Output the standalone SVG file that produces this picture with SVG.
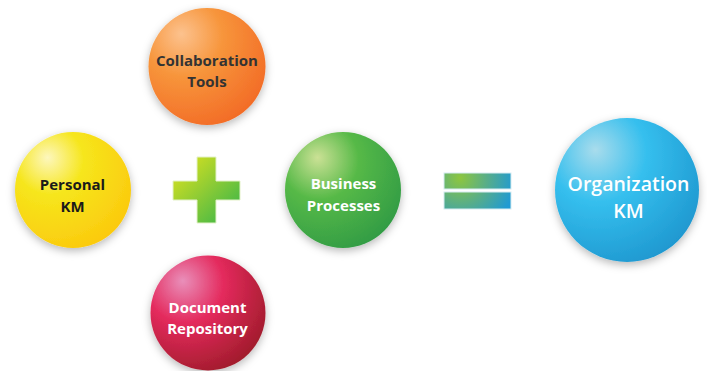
<svg xmlns="http://www.w3.org/2000/svg" width="707" height="371" viewBox="0 0 707 371">
  <style>
    .lbl { font-family: "Open Sans", "DejaVu Sans", sans-serif; font-weight: 700; font-size: 15px; text-anchor: middle; }
    .dark { fill: #333333; }
    .black { fill: #1a1a1a; }
    .white { fill: #ffffff; }
    .big { font-size: 19.5px; font-weight: 600; }
    .ball { filter: url(#shadow); }
  </style>
  <defs>
    <filter id="shadow" x="-30%" y="-30%" width="160%" height="160%">
      <feDropShadow dx="0" dy="3" stdDeviation="4" flood-color="#000" flood-opacity="0.28"/>
    </filter>
    <radialGradient id="gOrange" cx="0.32" cy="0.28" r="0.85" fx="0.28" fy="0.22">
      <stop offset="0" stop-color="#fcc28e"/>
      <stop offset="0.4" stop-color="#f7953b"/>
      <stop offset="1" stop-color="#f26624"/>
    </radialGradient>
    <radialGradient id="gYellow" cx="0.32" cy="0.28" r="0.85" fx="0.28" fy="0.22">
      <stop offset="0" stop-color="#fdf7bd"/>
      <stop offset="0.35" stop-color="#f6e61c"/>
      <stop offset="1" stop-color="#fcc60c"/>
    </radialGradient>
    <radialGradient id="gGreen" cx="0.32" cy="0.28" r="0.85" fx="0.28" fy="0.22">
      <stop offset="0" stop-color="#cbe195"/>
      <stop offset="0.4" stop-color="#56b947"/>
      <stop offset="1" stop-color="#2d9844"/>
    </radialGradient>
    <radialGradient id="gBlue" cx="0.32" cy="0.28" r="0.85" fx="0.28" fy="0.22">
      <stop offset="0" stop-color="#a9dcec"/>
      <stop offset="0.4" stop-color="#35bfee"/>
      <stop offset="1" stop-color="#1c93cc"/>
    </radialGradient>
    <radialGradient id="gRed" cx="0.32" cy="0.28" r="0.85" fx="0.28" fy="0.22">
      <stop offset="0" stop-color="#e98fba"/>
      <stop offset="0.4" stop-color="#e42a5d"/>
      <stop offset="1" stop-color="#981a25"/>
    </radialGradient>
    <linearGradient id="gPlus" x1="0" y1="0" x2="1" y2="1">
      <stop offset="0" stop-color="#e5e51c"/>
      <stop offset="0.5" stop-color="#8ccb35"/>
      <stop offset="1" stop-color="#2fb34b"/>
    </linearGradient>
    <radialGradient id="gEq" gradientUnits="userSpaceOnUse" cx="460" cy="178" r="55">
      <stop offset="0" stop-color="#8dc63f"/>
      <stop offset="0.5" stop-color="#57ad8a"/>
      <stop offset="1" stop-color="#1f9ad3"/>
    </radialGradient>
  </defs>

  <g id="collaboration-tools">
    <circle class="ball" cx="207" cy="66.5" r="58.5" fill="url(#gOrange)"/>
    <text class="lbl dark" x="207" y="66">Collaboration</text>
    <text class="lbl dark" x="207" y="87">Tools</text>
  </g>

  <g id="personal-km">
    <circle class="ball" cx="73" cy="190" r="58" fill="url(#gYellow)"/>
    <text class="lbl black" x="72.5" y="190">Personal</text>
    <text class="lbl black" x="72.5" y="212">KM</text>
  </g>

  <g id="plus">
    <path d="M197,157 H216 V181 H240 V200 H216 V223 H197 V200 H173 V181 H197 Z" fill="url(#gPlus)" stroke="#e3f1c8" stroke-width="1"/>
  </g>

  <g id="business-processes">
    <circle class="ball" cx="343" cy="190" r="58" fill="url(#gGreen)"/>
    <text class="lbl white" x="343.5" y="189">Business</text>
    <text class="lbl white" x="343.5" y="211">Processes</text>
  </g>

  <g id="equals">
    <rect x="444" y="173" width="67" height="16" fill="url(#gEq)" stroke="#d6ecf2" stroke-width="1"/>
    <rect x="444" y="192" width="67" height="17" fill="url(#gEq)" stroke="#d6ecf2" stroke-width="1"/>
  </g>

  <g id="organization-km">
    <circle class="ball" cx="627" cy="190" r="72" fill="url(#gBlue)"/>
    <text class="lbl big white" x="628.5" y="191">Organization</text>
    <text class="lbl big white" x="628.5" y="218">KM</text>
  </g>

  <g id="document-repository">
    <circle class="ball" cx="208" cy="313" r="57.5" fill="url(#gRed)"/>
    <text class="lbl white" x="207.5" y="313">Document</text>
    <text class="lbl white" x="207.5" y="334">Repository</text>
  </g>

  <g id="connectors"></g>
</svg>
